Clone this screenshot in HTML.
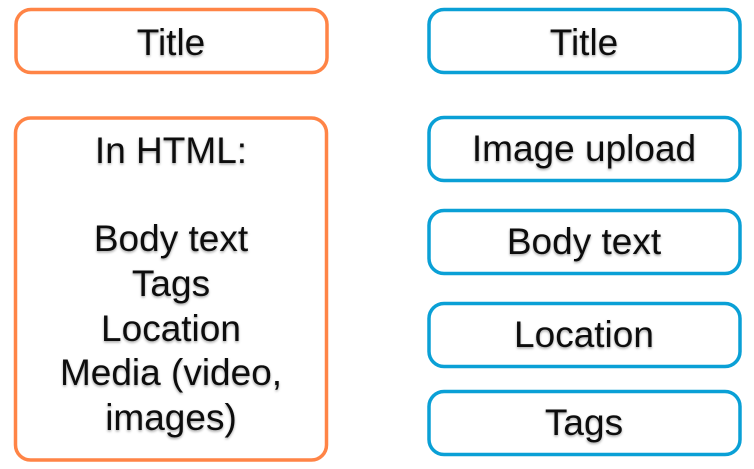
<!DOCTYPE html>
<html><head><style>
html,body{margin:0;padding:0;background:#fff;}
svg text{font-family:"Liberation Sans",sans-serif;font-size:37px;fill:#111;text-anchor:middle;}
</style></head><body>
<svg width="754" height="464" viewBox="0 0 754 464">
<defs><filter id="s" x="-10%" y="-10%" width="120%" height="130%"><feDropShadow dx="0" dy="1.5" stdDeviation="1.2" flood-color="#000" flood-opacity="0.35"/></filter></defs>
<g fill="none" stroke-width="3.5">
<rect x="16" y="9.5" width="311" height="63" rx="15" stroke="#FF8446"/>
<rect x="15.5" y="118" width="311" height="342" rx="15" stroke="#FF8446"/>
<rect x="429" y="9.5" width="311" height="63" rx="15" stroke="#0AA0D6"/>
<rect x="429" y="117.5" width="311" height="63" rx="15" stroke="#0AA0D6"/>
<rect x="429" y="210.5" width="311" height="63" rx="15" stroke="#0AA0D6"/>
<rect x="429" y="303.5" width="311" height="63" rx="15" stroke="#0AA0D6"/>
<rect x="429" y="391.5" width="311" height="63" rx="15" stroke="#0AA0D6"/>
</g>
<g filter="url(#s)">
<text x="171" y="55">Title</text>
<text x="171" y="163">In HTML:</text>
<text x="171" y="251">Body text</text>
<text x="171" y="296">Tags</text>
<text x="171" y="341">Location</text>
<text x="171" y="385">Media (video,</text>
<text x="171" y="430">images)</text>
<text x="584" y="55">Title</text>
<text x="584" y="161">Image upload</text>
<text x="584" y="254">Body text</text>
<text x="584" y="347">Location</text>
<text x="584" y="435">Tags</text>
</g>
</svg>
</body></html>
